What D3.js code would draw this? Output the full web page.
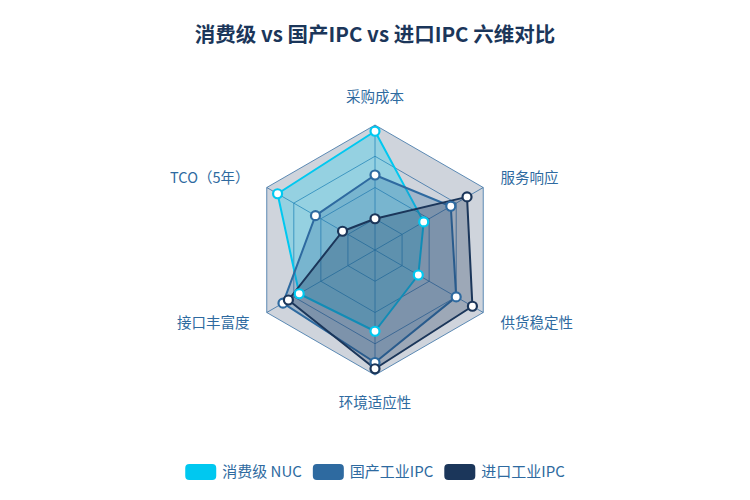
<!DOCTYPE html>
<html>
<head>
<meta charset="utf-8">
<script src="https://cdn.jsdelivr.net/npm/d3@7"></script>
<style>
    body { margin: 0; background: #fff; }
    text { font-family: "Noto Sans CJK SC", "Noto Sans", sans-serif; }
</style>
</head>
<body>
<div id="wrapper"></div>
<script>
const indicators = ["采购成本", "服务响应", "供货稳定性", "环境适应性", "接口丰富度", "TCO（5年）"];
const seriesNames = ["消费级 NUC", "国产工业IPC", "进口工业IPC"];
const nucValues = [95, 45, 40, 65, 70, 90];
const domesticValues = [60, 70, 75, 90, 85, 55];
const importValues = [25, 85, 90, 95, 80, 30];
const gridLevels = [25, 50, 75, 100];
const seriesColors = ["#00c8f0", "#2e6aa0", "#1b365a"];

function draw() {
    const dimensions = {
        width: 750,
        height: 500,
        cx: 375,
        cy: 250,
        radius: 125,
    };
    const allSeries = [nucValues, domesticValues, importValues];

    const svg = d3.select("#wrapper")
        .append("svg")
        .attr("width", dimensions.width)
        .attr("height", dimensions.height);

    // title
    svg.append("text")
        .attr("x", dimensions.width / 2)
        .attr("y", 33)
        .attr("text-anchor", "middle")
        .attr("dominant-baseline", "central")
        .style("font-size", "20.5px")
        .style("font-weight", "bold")
        .style("fill", "#1b365a")
        .text("消费级 vs 国产IPC vs 进口IPC 六维对比");

    const rScale = d3.scaleLinear()
        .domain([0, 100])
        .range([0, dimensions.radius]);
    const angleScale = d3.scaleLinear()
        .domain([0, indicators.length])
        .range([0, 2 * Math.PI]);

    const radar = svg.append("g")
        .attr("transform", `translate(${dimensions.cx},${dimensions.cy})`);

    const radial = d3.lineRadial()
        .angle((d, i) => angleScale(i))
        .radius(d => rScale(d))
        .curve(d3.curveLinearClosed);

    // background area
    radar.append("path")
        .attr("d", radial(indicators.map(() => 100)))
        .attr("fill", "rgba(27,54,90,0.21)");

    // grid rings
    radar.selectAll(".ring")
        .data(gridLevels)
        .enter().append("path")
        .attr("class", "ring")
        .attr("d", lv => radial(indicators.map(() => lv)))
        .attr("fill", "none")
        .attr("stroke", "#2e6aa0")
        .attr("stroke-opacity", 0.75)
        .attr("stroke-width", 1);

    // axes
    const pos = (i, v) => {
        const a = angleScale(i);
        return [Math.sin(a) * rScale(v), -Math.cos(a) * rScale(v)];
    };
    radar.selectAll(".axis")
        .data(indicators)
        .enter().append("line")
        .attr("class", "axis")
        .attr("x1", 0).attr("y1", 0)
        .attr("x2", (d, i) => pos(i, 100)[0])
        .attr("y2", (d, i) => pos(i, 100)[1])
        .attr("stroke", "#2e6aa0")
        .attr("stroke-opacity", 0.75)
        .attr("stroke-width", 1);

    // indicator names
    const nameGap = 20;
    radar.selectAll(".name")
        .data(indicators)
        .enter().append("text")
        .attr("class", "name")
        .each(function (d, i) {
            const a = angleScale(i);
            const r = dimensions.radius + nameGap;
            const x = Math.sin(a) * r;
            const y = -Math.cos(a) * r;
            let anchor = "middle";
            if (x > 1) anchor = "start";
            if (x < -1) anchor = "end";
            let dy = "0.35em";
            if (Math.abs(x) < 1) dy = y < 0 ? "-0.2em" : "0.9em";
            d3.select(this)
                .attr("x", x).attr("y", y)
                .attr("dy", dy)
                .attr("text-anchor", anchor);
        })
        .style("font-size", "14.5px")
        .style("fill", "#2e6aa0")
        .text(d => d);

    // series areas
    radar.selectAll(".area")
        .data(allSeries)
        .enter().append("path")
        .attr("class", "area")
        .attr("d", d => radial(d))
        .attr("fill", (d, i) => seriesColors[i])
        .attr("fill-opacity", 0.28)
        .attr("stroke", (d, i) => seriesColors[i])
        .attr("stroke-width", 2)
        .attr("stroke-linejoin", "round");

    // markers
    allSeries.forEach((vals, s) => {
        radar.selectAll(`.dot-${s}`)
            .data(vals)
            .enter().append("circle")
            .attr("class", `dot-${s}`)
            .attr("cx", (d, i) => pos(i, d)[0])
            .attr("cy", (d, i) => pos(i, d)[1])
            .attr("r", 4.5)
            .attr("fill", "#fff")
            .attr("stroke", seriesColors[s])
            .attr("stroke-width", 2.2);
    });

    // legend
    const legend = svg.append("g");
    const iconW = 31, iconH = 16, textGap = 6, itemGap = 11;
    let cursor = 0;
    seriesNames.forEach((name, i) => {
        const item = legend.append("g").attr("transform", `translate(${cursor},0)`);
        item.append("rect")
            .attr("x", 0).attr("y", -iconH / 2)
            .attr("width", iconW).attr("height", iconH)
            .attr("rx", 4)
            .attr("fill", seriesColors[i]);
        const t = item.append("text")
            .attr("x", iconW + textGap)
            .attr("dy", "0.35em")
            .style("font-size", "15px")
            .style("fill", "#2e6aa0")
            .text(name);
        cursor += iconW + textGap + t.node().getComputedTextLength() + itemGap;
    });
    const legendWidth = cursor - itemGap;
    legend.attr("transform", `translate(${(dimensions.width - legendWidth) / 2},472)`);
}
draw();
</script>
</body>
</html>
